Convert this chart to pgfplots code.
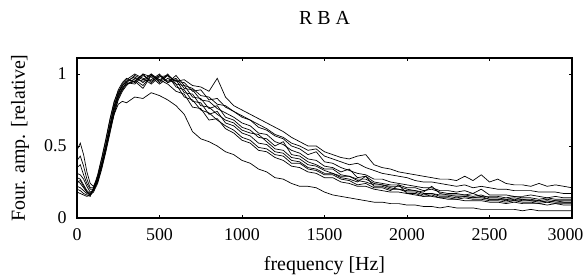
\documentclass[border=0pt]{standalone}
\usepackage{fontspec}
\setmainfont{Liberation Serif}
\usepackage{pgfplots}
\usepackage{pgfplotstable}
\pgfplotsset{compat=1.18}
\pgfplotstableread{
x c1 c2 c3 c4 c5 c6 c7 c8 c9 c10
0 0.47 0.40 0.35 0.31 0.28 0.25 0.22 0.20 0.18 0.26
20 0.52 0.43 0.37 0.30 0.27 0.26 0.21 0.19 0.17 0.24
40 0.44 0.36 0.30 0.27 0.23 0.22 0.19 0.17 0.16 0.21
60 0.32 0.27 0.24 0.22 0.19 0.18 0.17 0.16 0.15 0.18
80 0.24 0.21 0.20 0.18 0.17 0.16 0.16 0.15 0.16 0.17
100 0.22 0.21 0.20 0.19 0.19 0.18 0.19 0.20 0.21 0.20
125 0.28 0.27 0.26 0.25 0.26 0.24 0.27 0.29 0.30 0.27
150 0.38 0.37 0.36 0.35 0.37 0.34 0.38 0.41 0.42 0.38
175 0.50 0.49 0.48 0.47 0.50 0.46 0.51 0.54 0.55 0.50
200 0.64 0.62 0.62 0.60 0.64 0.59 0.65 0.68 0.69 0.62
225 0.77 0.75 0.75 0.73 0.77 0.72 0.78 0.80 0.81 0.72
250 0.86 0.85 0.84 0.83 0.86 0.82 0.87 0.89 0.88 0.79
275 0.92 0.90 0.90 0.89 0.92 0.88 0.93 0.94 0.91 0.81
300 0.95 0.94 0.94 0.93 0.95 0.92 0.96 0.97 0.93 0.80
350 0.98 0.93 0.99 0.95 0.96 0.97 1.00 0.94 0.95 0.84
400 0.94 0.99 0.96 1.00 0.92 0.95 0.97 1.00 0.90 0.83
450 1.00 0.95 1.00 0.94 0.99 0.96 0.93 0.98 0.99 0.87
500 0.96 0.99 0.94 0.99 0.95 1.00 0.98 0.93 0.96 0.85
550 0.99 0.94 0.99 0.95 1.00 0.94 0.99 0.97 0.93 0.82
600 0.95 0.99 0.95 0.97 0.93 0.96 0.91 0.93 0.88 0.78
650 0.96 0.92 0.94 0.90 0.92 0.87 0.89 0.84 0.86 0.72
700 0.92 0.90 0.88 0.89 0.84 0.86 0.81 0.82 0.77 0.60
750 0.91 0.85 0.89 0.82 0.83 0.78 0.80 0.75 0.76 0.55
800 0.88 0.84 0.82 0.81 0.76 0.77 0.72 0.73 0.68 0.53
850 0.97 0.79 0.83 0.76 0.78 0.72 0.74 0.68 0.69 0.50
900 0.84 0.78 0.77 0.73 0.70 0.68 0.66 0.64 0.62 0.46
950 0.78 0.74 0.74 0.70 0.68 0.66 0.64 0.61 0.59 0.44
1000 0.75 0.71 0.70 0.66 0.63 0.61 0.59 0.56 0.54 0.40
1050 0.72 0.68 0.68 0.64 0.61 0.59 0.57 0.54 0.52 0.38
1100 0.69 0.65 0.63 0.59 0.56 0.58 0.52 0.49 0.47 0.34
1150 0.66 0.62 0.61 0.58 0.55 0.53 0.51 0.48 0.46 0.32
1200 0.63 0.58 0.57 0.53 0.50 0.48 0.46 0.44 0.42 0.28
1250 0.60 0.56 0.55 0.51 0.53 0.47 0.45 0.43 0.40 0.27
1300 0.56 0.52 0.50 0.47 0.44 0.42 0.40 0.38 0.36 0.24
1350 0.53 0.50 0.48 0.45 0.43 0.41 0.39 0.38 0.35 0.22
1400 0.50 0.47 0.44 0.41 0.39 0.37 0.35 0.34 0.32 0.22
1450 0.50 0.48 0.46 0.40 0.37 0.36 0.34 0.33 0.31 0.21
1500 0.46 0.43 0.39 0.36 0.34 0.33 0.31 0.30 0.28 0.18
1550 0.44 0.41 0.38 0.35 0.34 0.31 0.31 0.30 0.28 0.16
1600 0.42 0.39 0.35 0.32 0.30 0.29 0.28 0.27 0.25 0.15
1650 0.41 0.37 0.33 0.34 0.29 0.29 0.27 0.26 0.24 0.14
1700 0.43 0.38 0.31 0.28 0.27 0.26 0.25 0.23 0.22 0.13
1750 0.44 0.35 0.30 0.29 0.27 0.25 0.29 0.24 0.22 0.12
1800 0.37 0.33 0.27 0.25 0.24 0.23 0.22 0.21 0.20 0.11
1850 0.35 0.31 0.27 0.24 0.23 0.23 0.22 0.21 0.19 0.11
1900 0.34 0.30 0.25 0.23 0.22 0.21 0.20 0.19 0.18 0.10
1950 0.32 0.29 0.24 0.23 0.22 0.20 0.20 0.23 0.18 0.10
2000 0.31 0.28 0.23 0.21 0.20 0.19 0.18 0.17 0.17 0.09
2050 0.30 0.26 0.22 0.21 0.19 0.19 0.18 0.17 0.16 0.09
2100 0.29 0.25 0.21 0.19 0.18 0.17 0.16 0.15 0.15 0.08
2150 0.28 0.25 0.21 0.20 0.22 0.17 0.17 0.16 0.15 0.08
2200 0.27 0.24 0.19 0.18 0.17 0.16 0.15 0.14 0.14 0.07
2250 0.27 0.23 0.19 0.17 0.16 0.16 0.15 0.14 0.13 0.08
2300 0.26 0.22 0.18 0.17 0.16 0.15 0.14 0.13 0.13 0.07
2350 0.29 0.23 0.19 0.16 0.16 0.15 0.15 0.14 0.12 0.07
2400 0.26 0.21 0.17 0.17 0.15 0.14 0.14 0.13 0.12 0.07
2450 0.30 0.22 0.20 0.15 0.16 0.15 0.14 0.13 0.12 0.06
2500 0.25 0.21 0.16 0.15 0.14 0.13 0.13 0.12 0.11 0.06
2550 0.27 0.20 0.16 0.15 0.14 0.13 0.13 0.12 0.11 0.06
2600 0.24 0.20 0.16 0.14 0.13 0.13 0.12 0.11 0.10 0.06
2650 0.23 0.19 0.15 0.15 0.14 0.12 0.13 0.12 0.11 0.06
2700 0.23 0.19 0.15 0.14 0.13 0.13 0.12 0.11 0.10 0.05
2750 0.22 0.19 0.16 0.14 0.13 0.12 0.12 0.11 0.10 0.06
2800 0.24 0.18 0.15 0.13 0.12 0.12 0.11 0.10 0.10 0.05
2850 0.22 0.18 0.14 0.14 0.13 0.11 0.12 0.11 0.09 0.05
2900 0.23 0.18 0.15 0.13 0.12 0.12 0.11 0.10 0.10 0.05
2950 0.22 0.17 0.14 0.13 0.12 0.11 0.11 0.10 0.09 0.05
3000 0.21 0.17 0.14 0.13 0.12 0.11 0.11 0.10 0.09 0.05
}\spectra
\begin{document}
\begin{tikzpicture}
\useasboundingbox (-77bp,-59bp) rectangle (511bp,218bp);
\begin{axis}[
  at={(0,0)}, anchor=south west,
  scale only axis, width=495bp, height=160bp,
  xmin=0, xmax=3000, ymin=0, ymax=1.111,
  xtick={0,500,1000,1500,2000,2500,3000},
  xticklabels={0,500,1000,1500,2000,2500,\hspace*{-13bp}3000},
  ytick={0,0.5,1}, yticklabels={0,0.5,1},
  tick align=inside, major tick length=3bp,
  axis line style={line width=1.1pt},
  tick style={black, line width=0.8pt},
  ticklabel style={font=\fontsize{18}{20}\selectfont},
  xticklabel style={yshift=-7bp},
  yticklabel style={xshift=-7bp},
  xlabel={frequency [Hz]},
  ylabel={Four. amp. [relative]},
  label style={font=\fontsize{20}{22}\selectfont},
  xlabel style={at={(axis description cs:0.5,-0.30)}, anchor=center},
  ylabel style={at={(axis description cs:-0.115,0.5)}, anchor=center},
  title={R B A},
  title style={at={(axis description cs:0.5,1.216)}, anchor=center, font=\fontsize{20}{22}\selectfont},
]
\addplot[black, line width=0.7pt, mark=none] table[x=x,y=c1] {\spectra};
\addplot[black, line width=0.7pt, mark=none] table[x=x,y=c2] {\spectra};
\addplot[black, line width=0.7pt, mark=none] table[x=x,y=c3] {\spectra};
\addplot[black, line width=0.7pt, mark=none] table[x=x,y=c4] {\spectra};
\addplot[black, line width=0.7pt, mark=none] table[x=x,y=c5] {\spectra};
\addplot[black, line width=0.7pt, mark=none] table[x=x,y=c6] {\spectra};
\addplot[black, line width=0.7pt, mark=none] table[x=x,y=c7] {\spectra};
\addplot[black, line width=0.7pt, mark=none] table[x=x,y=c8] {\spectra};
\addplot[black, line width=0.7pt, mark=none] table[x=x,y=c9] {\spectra};
\addplot[black, line width=0.7pt, mark=none] table[x=x,y=c10] {\spectra};
\end{axis}
\end{tikzpicture}
\end{document}
